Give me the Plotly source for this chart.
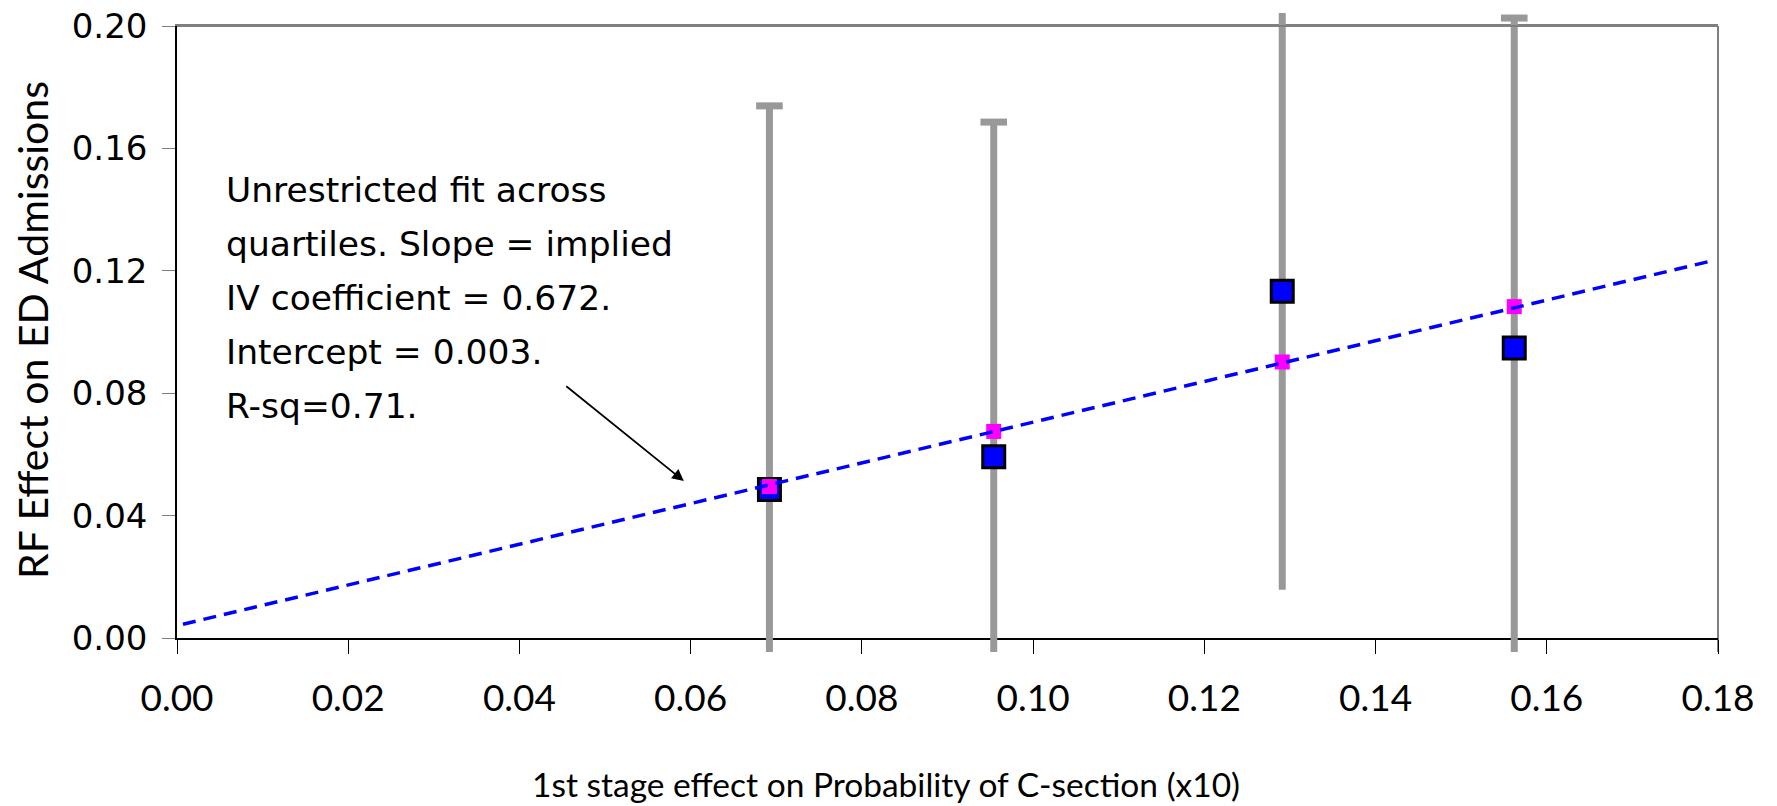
import plotly.graph_objects as go

# ---- data ----
fs_effect = [0.0692, 0.0954, 0.1291, 0.1562]      # 1st stage effect (x10)
rf_effect = [0.0485, 0.0592, 0.1133, 0.0948]      # RF effect (blue squares)
fitted = [0.0495, 0.0675, 0.0902, 0.1083]         # fitted values (magenta)
ci_high = [0.1739, 0.1686, 0.2100, 0.2026]        # top of interval
ci_low = [-0.0100, -0.0100, 0.0158, -0.0100]      # bottom of interval
cap_high = [0.1739, 0.1686, None, 0.2026]         # visible caps
fit_x = [0.0007, 0.1792]
fit_y = [0.0045, 0.1232]

x_ticks = [0.00, 0.02, 0.04, 0.06, 0.08, 0.10, 0.12, 0.14, 0.16, 0.18]
y_ticks = [0.00, 0.04, 0.08, 0.12, 0.16, 0.20]

note_lines = [
    "Unrestricted fit across",
    "quartiles. Slope = implied",
    "IV coefficient = 0.672.",
    "Intercept = 0.003.",
    "R-sq=0.71.",
]

W, H = 1777, 806
OFF = 8                        # default page body margin
FW, FH = W, H
# page-pixel frame of the plot area
PX0, PX1 = 177, 1718
PY0, PY1 = 26, 638            # top, bottom
# larger clip area used for the marks (chart area clipping)
CY0, CY1 = 13, 652
L, R = PX0 - OFF, FW - (PX1 - OFF)
T, B = CY0 - OFF, FH - (CY1 - OFF)
pw, ph = PX1 - PX0, CY1 - CY0
YMAX = 0.20
ppu = (PY1 - PY0) / YMAX       # pixels per unit
y_dom = [(CY1 - PY1) / ph, (CY1 - PY0) / ph]
y2_range = [-(CY1 - PY1) / ppu, YMAX + (PY0 - CY0) / ppu]

GRAY = "#999999"
fig = go.Figure()

# empty trace to hold the main (visible) axes subplot
fig.add_trace(go.Scatter(x=[], y=[], xaxis="x", yaxis="y", showlegend=False))

# interval bars (no caps)
fig.add_trace(go.Scatter(
    x=fs_effect, y=rf_effect, mode="markers", xaxis="x", yaxis="y2",
    marker=dict(size=1, color="rgba(0,0,0,0)"),
    error_y=dict(type="data", symmetric=False,
                 array=[h - v for h, v in zip(ci_high, rf_effect)],
                 arrayminus=[v - l for v, l in zip(rf_effect, ci_low)],
                 color=GRAY, thickness=7, width=0),
    showlegend=False, hoverinfo="skip"))

# caps
fig.add_trace(go.Scatter(
    x=fs_effect, y=cap_high, mode="markers", xaxis="x", yaxis="y2",
    marker=dict(symbol="line-ew", size=19, line=dict(color=GRAY, width=7)),
    showlegend=False, hoverinfo="skip"))

# blue squares
fig.add_trace(go.Scatter(
    x=fs_effect, y=rf_effect, mode="markers", xaxis="x", yaxis="y2",
    marker=dict(symbol="square", size=22, color="#0000FF",
                line=dict(color="black", width=3)),
    showlegend=False))

# magenta fitted
fig.add_trace(go.Scatter(
    x=fs_effect, y=fitted, mode="markers", xaxis="x", yaxis="y2",
    marker=dict(symbol="square", size=15, color="#FF00FF", line=dict(width=0)),
    showlegend=False))

# fit line
fig.add_trace(go.Scatter(
    x=fit_x, y=fit_y, mode="lines", xaxis="x", yaxis="y2",
    line=dict(color="#0000FF", width=3.5, dash="13px,8px"),
    showlegend=False))

TICKFONT_X = dict(family="Lato", size=37, color="black")
TICKFONT_Y = dict(family="DejaVu Sans", size=34, color="black")

fig.update_layout(
    xaxis=dict(range=[0, 0.18], tickvals=x_ticks,
               ticktext=[f"{v:.2f}" for v in x_ticks],
               showline=True, linecolor="black", linewidth=2,
               ticks="outside", ticklen=14, tickwidth=1.2, tickcolor="black",
               showgrid=False, zeroline=False, tickfont=TICKFONT_X,
               ticklabelstandoff=13, automargin=False, anchor="y",
               ticklabeloverflow="allow"),
    # top frame line drawn by an overlaying, label-less axis
    xaxis2=dict(range=[0, 0.18], overlaying="x", side="top", anchor="y",
                showline=True, linecolor="#808080", linewidth=2,
                ticks="", showticklabels=False, showgrid=False,
                zeroline=False, automargin=False),
    yaxis=dict(range=[0, YMAX], domain=y_dom, tickvals=y_ticks,
               ticktext=[f"{v:.2f}" for v in y_ticks],
               showline=True, linecolor="black", linewidth=1.5,
               ticks="outside", ticklen=13, tickwidth=1.2, tickcolor="#808080",
               showgrid=False, zeroline=False, tickfont=TICKFONT_Y,
               ticklabelstandoff=8, automargin=False, anchor="x",
               ticklabeloverflow="allow"),
    yaxis2=dict(range=y2_range, domain=[0, 1], visible=False,
                showgrid=False, zeroline=False, automargin=False, anchor="x"),
)
# empty trace so the top-frame axis is rendered
fig.add_trace(go.Scatter(x=[], y=[], xaxis="x2", yaxis="y", showlegend=False))

# frame: top and right borders
fr_top = 1 - (PY0 - CY0) / ph
shapes = [
    dict(type="line", xref="paper", yref="paper", x0=0, x1=1, y0=fr_top, y1=fr_top,
         line=dict(color="#808080", width=2), layer="above"),
    dict(type="line", xref="paper", yref="paper", x0=1, x1=1, y0=fr_top, y1=0,
         line=dict(color="#808080", width=2), layer="below"),
]

def py_to_paper(py):        # page pixel -> paper fraction
    return (CY1 - py) / ph

def px_to_paper(px):
    return (px - PX0) / pw

annotations = []
line_y = [190, 244, 298, 352, 406]
for txt, py in zip(note_lines, line_y):
    annotations.append(dict(
        text=txt, xref="paper", yref="paper",
        x=px_to_paper(224), y=py_to_paper(py),
        xanchor="left", yanchor="middle", showarrow=False,
        font=dict(family="DejaVu Sans", size=34.5, color="black")))

# arrow
annotations.append(dict(
    x=0.0592, y=0.0513, xref="x", yref="y", text="", showarrow=True,
    ax=-119, ay=-96, arrowhead=2, arrowsize=1.3, arrowwidth=1.8,
    arrowcolor="black"))

# axis titles
annotations.append(dict(
    text="1st stage effect on Probability of C-section (x10)",
    xref="paper", yref="paper", x=px_to_paper(886), y=py_to_paper(784),
    xanchor="center", yanchor="middle", showarrow=False,
    font=dict(family="Lato", size=33.5, color="black")))
annotations.append(dict(
    text="RF Effect on ED Admissions",
    xref="paper", yref="paper", x=px_to_paper(32), y=py_to_paper(330),
    xanchor="center", yanchor="middle", showarrow=False, textangle=-90,
    font=dict(family="Lato", size=41, color="black")))

fig.update_layout(
    width=FW, height=FH, margin=dict(l=L, r=R, t=T, b=B, pad=0, autoexpand=False),
    plot_bgcolor="rgba(0,0,0,0)", paper_bgcolor="white",
    shapes=shapes, annotations=annotations)

fig.write_html("out.html")
